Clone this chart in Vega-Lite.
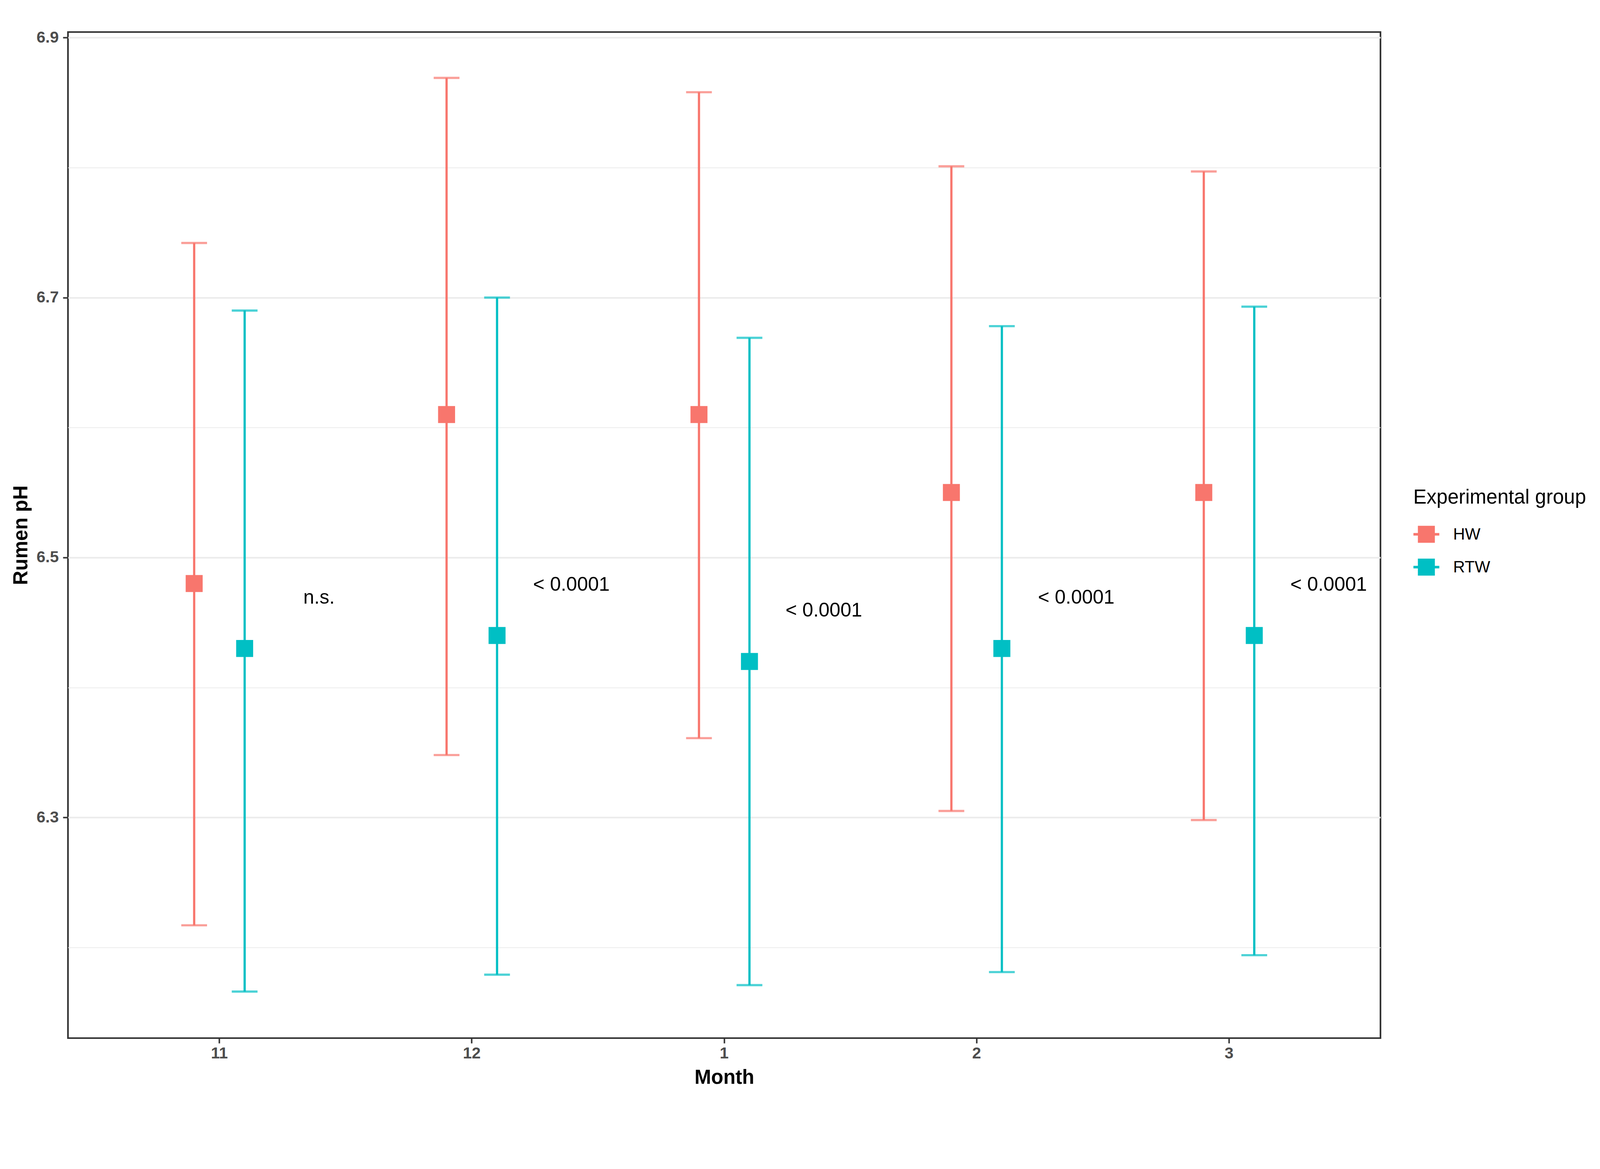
{
  "$schema": "https://vega.github.io/schema/vega-lite/v6.json",
  "width": 3360,
  "height": 2575,
  "autosize": {"type": "none"},
  "padding": {"left": 174, "top": 82, "right": 562, "bottom": 174},
  "background": "white",
  "datasets": {
    "ph": [
      {"month": "11", "group": "HW", "mean": 6.480, "lower": 6.217, "upper": 6.742},
      {"month": "11", "group": "RTW", "mean": 6.430, "lower": 6.166, "upper": 6.690},
      {"month": "12", "group": "HW", "mean": 6.610, "lower": 6.348, "upper": 6.869},
      {"month": "12", "group": "RTW", "mean": 6.440, "lower": 6.179, "upper": 6.700},
      {"month": "1", "group": "HW", "mean": 6.610, "lower": 6.361, "upper": 6.858},
      {"month": "1", "group": "RTW", "mean": 6.420, "lower": 6.171, "upper": 6.669},
      {"month": "2", "group": "HW", "mean": 6.550, "lower": 6.305, "upper": 6.801},
      {"month": "2", "group": "RTW", "mean": 6.430, "lower": 6.181, "upper": 6.678},
      {"month": "3", "group": "HW", "mean": 6.550, "lower": 6.298, "upper": 6.797},
      {"month": "3", "group": "RTW", "mean": 6.440, "lower": 6.194, "upper": 6.693}
    ],
    "notes": [
      {"month": "11", "label": "n.s.", "ypos": 6.469},
      {"month": "12", "label": "< 0.0001", "ypos": 6.479},
      {"month": "1", "label": "< 0.0001", "ypos": 6.459},
      {"month": "2", "label": "< 0.0001", "ypos": 6.469},
      {"month": "3", "label": "< 0.0001", "ypos": 6.479}
    ]
  },
  "config": {
    "font": "Liberation Sans",
    "view": {"stroke": "#333333", "strokeWidth": 4.2},
    "axis": {
      "domain": false,
      "labelFont": "Liberation Sans",
      "labelFontSize": 41,
      "labelFontWeight": "bold",
      "labelColor": "#4D4D4D",
      "tickColor": "#333333",
      "tickWidth": 3.8,
      "tickSize": 13,
      "gridColor": "#EBEBEB",
      "gridWidth": 4.2,
      "titleFont": "Liberation Sans",
      "titleFontSize": 51,
      "titleFontWeight": "bold",
      "titleColor": "black"
    },
    "legend": {
      "orient": "none",
      "legendX": 3444,
      "legendY": 1167,
      "padding": 0,
      "titleFont": "Liberation Sans",
      "titleFontSize": 51,
      "titleFontWeight": "normal",
      "titleColor": "black",
      "titlePadding": 34,
      "titleLimit": 2000,
      "labelFont": "Liberation Sans",
      "labelFontSize": 42,
      "labelColor": "black",
      "labelOffset": 35,
      "labelLimit": 1000,
      "rowPadding": 28,
      "symbolType": "M-1,-0.1H-0.657V-0.657H0.657V-0.1H1V0.1H0.657V0.657H-0.657V0.1H-1Z",
      "symbolSize": 4385,
      "symbolStrokeWidth": 0,
      "symbolOpacity": 1
    }
  },
  "layer": [
    {
      "data": {"name": "ph"},
      "mark": {"type": "rule", "strokeWidth": 5.7},
      "encoding": {
        "x": {
          "field": "month", "type": "ordinal", "sort": ["11", "12", "1", "2", "3"],
          "scale": {"type": "band", "paddingInner": 0, "paddingOuter": 0.1},
          "title": "Month",
          "axis": {"labelAngle": 0, "labelPadding": 6, "titlePadding": 17}
        },
        "xOffset": {"field": "group", "type": "nominal", "scale": {"domain": ["pad1", "HW", "RTW", "pad2"], "paddingInner": 0, "paddingOuter": 0.5}},
        "y": {
          "field": "lower", "type": "quantitative", "title": "Rumen pH",
          "scale": {"domain": [6.1302, 6.9043], "nice": false, "zero": false},
          "axis": {
            "values": [6.2, 6.3, 6.4, 6.5, 6.6, 6.7, 6.8, 6.9],
            "format": ".1f",
            "labelExpr": "round(datum.value * 10) % 2 == 1 ? datum.label : ''",
            "tickOpacity": {"condition": {"test": "round(datum.value * 10) % 2 == 1", "value": 1}, "value": 0},
            "gridWidth": {"condition": {"test": "round(datum.value * 10) % 2 == 1", "value": 4.2}, "value": 2.2},
            "labelPadding": 11,
            "titlePadding": 13
          }
        },
        "y2": {"field": "upper"},
        "color": {"field": "group", "type": "nominal", "scale": {"domain": ["HW", "RTW"], "range": ["#F8766D", "#00BFC4"]}, "title": "Experimental group"}
      }
    },
    {
      "data": {"name": "ph"},
      "mark": {"type": "tick", "orient": "horizontal", "size": 66, "thickness": 5.7},
      "encoding": {
        "x": {"field": "month", "type": "ordinal", "sort": ["11", "12", "1", "2", "3"]},
        "xOffset": {"field": "group", "type": "nominal"},
        "y": {"field": "upper", "type": "quantitative", "title": "Rumen pH"},
        "color": {"field": "group", "type": "nominal", "title": "Experimental group"}
      }
    },
    {
      "data": {"name": "ph"},
      "mark": {"type": "tick", "orient": "horizontal", "size": 66, "thickness": 5.7},
      "encoding": {
        "x": {"field": "month", "type": "ordinal", "sort": ["11", "12", "1", "2", "3"]},
        "xOffset": {"field": "group", "type": "nominal"},
        "y": {"field": "lower", "type": "quantitative", "title": "Rumen pH"},
        "color": {"field": "group", "type": "nominal", "title": "Experimental group"}
      }
    },
    {
      "data": {"name": "ph"},
      "mark": {"type": "point", "shape": "square", "filled": true, "size": 1892, "opacity": 1},
      "encoding": {
        "x": {"field": "month", "type": "ordinal", "sort": ["11", "12", "1", "2", "3"]},
        "xOffset": {"field": "group", "type": "nominal"},
        "y": {"field": "mean", "type": "quantitative", "title": "Rumen pH"},
        "color": {"field": "group", "type": "nominal", "title": "Experimental group"}
      }
    },
    {
      "data": {"name": "notes"},
      "mark": {"type": "text", "dx": 255, "fontSize": 50, "font": "Liberation Sans", "color": "black", "align": "center", "baseline": "middle"},
      "encoding": {
        "x": {"field": "month", "type": "ordinal", "sort": ["11", "12", "1", "2", "3"]},
        "y": {"field": "ypos", "type": "quantitative", "title": "Rumen pH"},
        "text": {"field": "label"}
      }
    }
  ]
}
